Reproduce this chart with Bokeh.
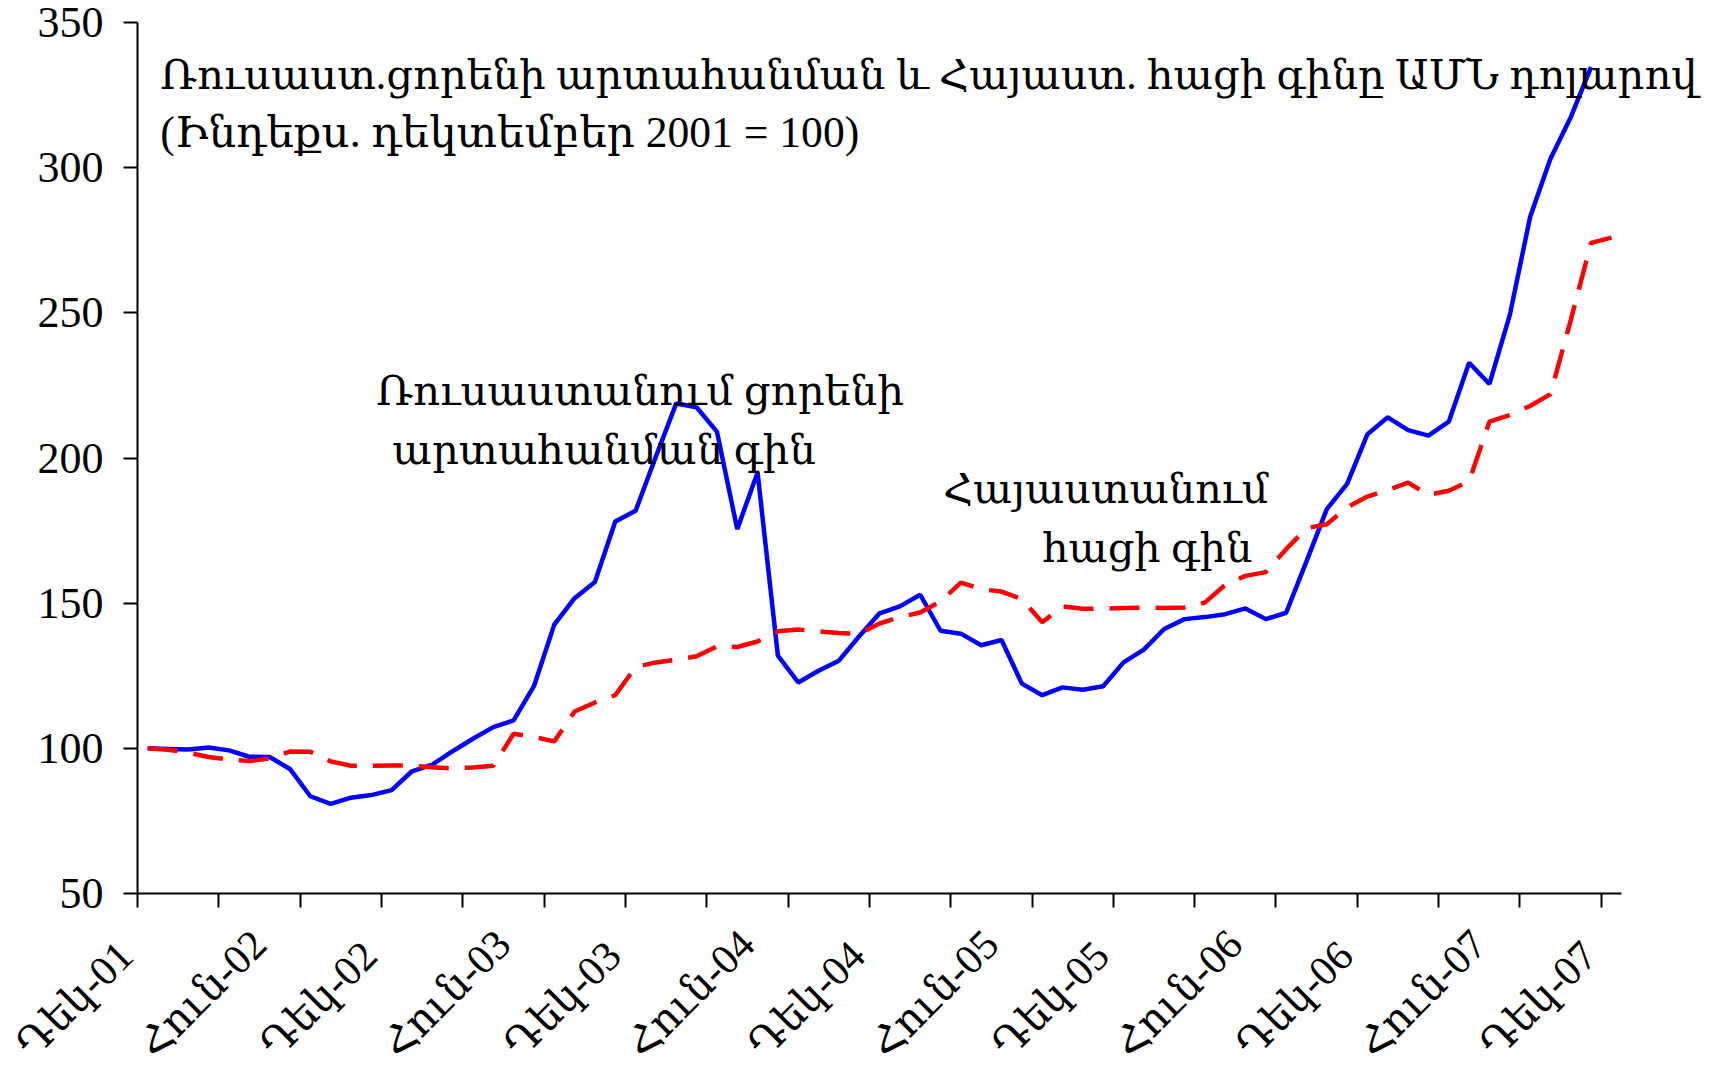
import math
from bokeh.plotting import figure
from bokeh.models import Range1d, FixedTicker, LabelSet, ColumnDataSource
from bokeh.embed import file_html
from bokeh.resources import INLINE
from bokeh.core.properties import value

# ---- data (monthly index, Dec-2001 = 100) ----
n_months = 73  # Dec-01 .. Dec-07
tick_labels = ["Դեկ-01", "Հուն-02", "Դեկ-02", "Հուն-03", "Դեկ-03", "Հուն-04", "Դեկ-04",
               "Հուն-05", "Դեկ-05", "Հուն-06", "Դեկ-06", "Հուն-07", "Դեկ-07"]
label_step = 6
tick_step = 4

wheat_russia = [100.0, 99.8, 99.6, 100.3, 99.3, 97.1, 97.0, 92.9, 83.5, 80.9,
                83.0, 83.9, 85.6, 92.1, 94.4, 99.0, 103.3, 107.3, 109.6, 121.4,
                142.6, 151.7, 157.3, 178.1, 181.8, 200.5, 218.8, 217.5, 209.1, 175.5,
                195.0, 131.9, 122.7, 126.7, 130.2, 138.6, 146.5, 148.9, 152.9, 140.5,
                139.5, 135.5, 137.3, 122.3, 118.3, 121.0, 120.2, 121.4, 129.6, 134.0,
                141.1, 144.5, 145.2, 146.2, 148.2, 144.5, 146.7, 164.4, 182.4, 191.1,
                208.2, 214.0, 209.6, 207.7, 212.5, 232.8, 225.5, 249.2, 283.0, 303.1,
                317.4, 334.6]

bread_armenia = [100.0, 99.5, 98.5, 97.0, 96.2, 95.6, 96.5, 98.9, 98.8, 95.5,
                 94.0, 94.0, 94.1, 94.0, 93.5, 93.1, 93.4, 94.0, 105.0, 103.9,
                 102.4, 112.7, 115.8, 118.3, 128.0, 129.6, 130.5, 131.7, 135.1, 134.9,
                 136.8, 140.3, 140.9, 140.3, 139.7, 139.5, 143.0, 145.2, 146.8, 150.6,
                 157.1, 154.8, 154.0, 151.4, 143.4, 148.9, 148.1, 148.1, 148.3, 148.5,
                 148.3, 148.5, 150.2, 156.3, 159.4, 160.7, 168.6, 175.8, 177.2, 183.0,
                 186.7, 189.0, 191.5, 187.3, 188.7, 192.0, 212.5, 214.8, 217.9, 222.0,
                 247.5, 274.1, 275.9]

y_ticks = [50, 100, 150, 200, 250, 300, 350]

title_lines = ["Ռուսաստ.ցորենի արտահանման և Հայաստ. հացի գինը ԱՄՆ դոլարով",
               "(Ինդեքս. դեկտեմբեր 2001 = 100)"]
series_notes = ["Ռուսաստանում ցորենի", "արտահանման գին", "Հայաստանում", "հացի գին"]

FONT = "Liberation Serif, DejaVu Serif"
FS = "44px"
FS_X = "42px"

# ---- layout (pixels) ----
Y0, Y1 = 50, 350
PX_CAT = 20.33               # pixels per monthly category
PX_UNIT = 871 / (Y1 - Y0)    # pixels per index point
AXIS_X = 137                 # canvas x of the value axis
AXIS_TOP = 22                # canvas y of the value 350
PAD = 4
FRAME_W = 1723
FRAME_H = 1059
x_lo = -AXIS_X / PX_CAT
x_hi = x_lo + FRAME_W / PX_CAT
y_hi = Y1 + (AXIS_TOP - PAD) / PX_UNIT
y_lo = y_hi - FRAME_H / PX_UNIT

p = figure(frame_width=FRAME_W, frame_height=FRAME_H,
           x_range=Range1d(x_lo, x_hi), y_range=Range1d(y_lo, y_hi),
           x_axis_location="above", y_axis_location="right",
           output_backend="svg", toolbar_location=None,
           min_border=0, min_border_left=0, min_border_right=PAD,
           min_border_top=PAD, min_border_bottom=0)
p.outline_line_color = None
p.grid.visible = False
p.background_fill_color = "white"
p.border_fill_color = "white"

# x positions: category centres
x_blue = [i + 0.5 for i in range(len(wheat_russia))]
x_red = [i + 0.5 for i in range(len(bread_armenia))]

p.line(x_blue, wheat_russia, line_color="#0000FF", line_width=4.5)
p.line(x_red, bread_armenia, line_color="#FF0000", line_width=4.5, line_dash="30 16")

# x axis placed at y = 50, tick marks every 4 months pointing down
tick_pos = list(range(0, n_months + 1, tick_step))
xa = p.xaxis[0]
xa.fixed_location = Y0
xa.bounds = (0, n_months)
xa.ticker = FixedTicker(ticks=tick_pos)
xa.major_label_overrides = {t: "" for t in tick_pos}
xa.major_label_text_font_size = "1px"
xa.major_label_standoff = 0
xa.major_tick_out = 0
xa.major_tick_in = 14
xa.minor_tick_out = 0
xa.minor_tick_in = 0
xa.major_tick_line_width = 2
xa.major_tick_line_color = "black"
xa.axis_line_width = 2
xa.axis_line_color = "black"

# y axis placed at x = 0, tick marks pointing left
ya = p.yaxis[0]
ya.fixed_location = 0
ya.bounds = (Y0, Y1)
ya.ticker = FixedTicker(ticks=y_ticks)
ya.major_label_overrides = {t: "" for t in y_ticks}
ya.major_label_text_font_size = "1px"
ya.major_label_standoff = 0
ya.major_tick_out = 0
ya.major_tick_in = 14
ya.minor_tick_out = 0
ya.minor_tick_in = 0
ya.major_tick_line_width = 2
ya.major_tick_line_color = "black"
ya.axis_line_width = 2
ya.axis_line_color = "black"

# y tick labels
ylab_src = ColumnDataSource(dict(x=[-(14 + 20) / PX_CAT] * len(y_ticks), y=y_ticks,
                                 t=[str(v) for v in y_ticks]))
p.add_layout(LabelSet(x="x", y="y", text="t", source=ylab_src,
                      text_font=value(FONT), text_font_size=value(FS),
                      text_color="black", text_align="right",
                      text_baseline="middle"))

# rotated category labels every 6 months, anchored at their start
lab_x = [k * label_step + 0.5 - 114 / PX_CAT for k in range(len(tick_labels))]
lab_y = [Y0 - 167 / PX_UNIT for _ in tick_labels]
lab_src = ColumnDataSource(dict(x=lab_x, y=lab_y, t=tick_labels))
p.add_layout(LabelSet(x="x", y="y", text="t", source=lab_src, angle=math.pi / 4,
                      text_font=value(FONT), text_font_size=value(FS_X),
                      text_color="black", text_align="left",
                      text_baseline="alphabetic"))

# annotations
ann_text = title_lines + series_notes
ann_x = [1.12, 1.12, 11.74, 12.53, 39.63, 44.5]
ann_y = [326.95, 307.0, 218.4, 198.1, 184.4, 164.3]
ann_fs = ["41.6px", "43.6px", "41.8px", "41.8px", "41.4px", "41.4px"]
ann_src = ColumnDataSource(dict(x=ann_x, y=ann_y, t=ann_text, fs=ann_fs))
p.add_layout(LabelSet(x="x", y="y", text="t", source=ann_src,
                      text_font=value(FONT), text_font_size="fs",
                      text_color="black", text_align="left",
                      text_baseline="alphabetic"))

open("out.html", "w").write(file_html(p, INLINE))
